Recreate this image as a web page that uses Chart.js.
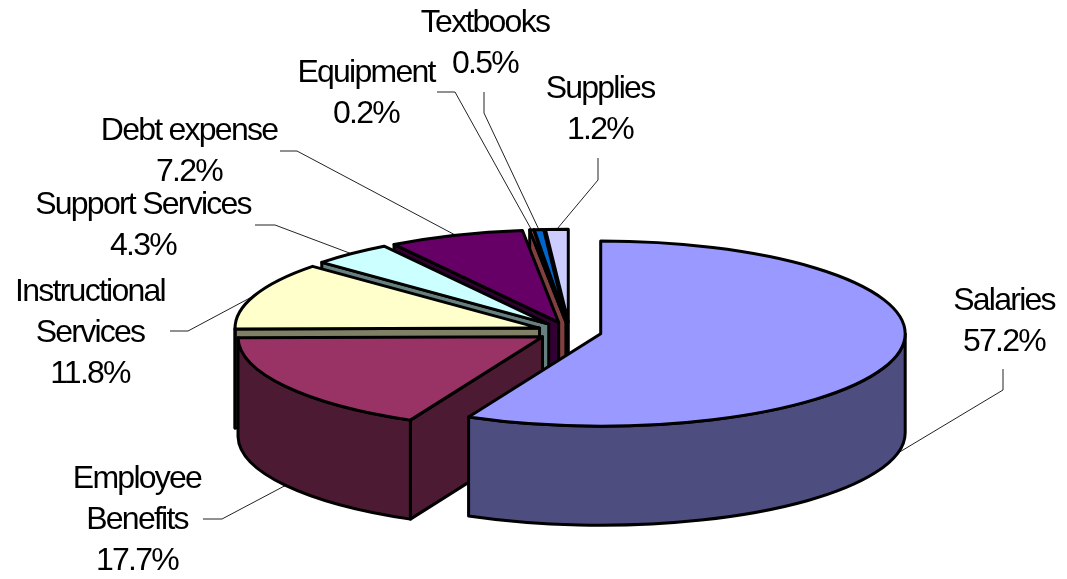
<!DOCTYPE html>
<html>
<head>
<meta charset="utf-8">
<script src="https://cdn.jsdelivr.net/npm/chart.js@4"></script>
<style>
    body { margin: 0; background: #fff; }
    #wrap { width: 1067px; height: 579px; }
</style>
</head>
<body>
<div id="wrap"><canvas id="pieChart" width="1067" height="579"></canvas></div>
<script>
const categories = ["Salaries", "Employee Benefits", "Instructional Services", "Support Services", "Debt expense", "Equipment", "Textbooks", "Supplies"];
const shares = [57.2, 17.7, 11.8, 4.3, 7.2, 0.2, 0.5, 1.2];

const topColors = ["#9999FF", "#993366", "#FFFFCC", "#CCFFFF", "#660066", "#FF8080", "#0066CC", "#CCCCFF"];
const wallColors = ["#4D4D80", "#4D1A33", "#808066", "#668080", "#330033", "#804040", "#003366", "#666680"];

// label centre x, first line centre y, leader start and elbow
const labelSpots = [
    { x: 1004, y: 301, wrap: false, from: [1003, 369], elbow: [1003, 390], wall: true },
    { x: 137, y: 479, wrap: true, from: [203, 519], elbow: [222, 519], wall: true },
    { x: 90, y: 292, wrap: true, from: [170, 331], elbow: [188, 331], wall: false },
    { x: 143, y: 205, wrap: false, from: [255, 225], elbow: [275, 225], wall: false },
    { x: 189, y: 131, wrap: false, from: [280, 151], elbow: [297, 151], wall: false },
    { x: 366, y: 73, wrap: false, from: [437, 92], elbow: [455, 92], wall: false },
    { x: 485, y: 23, wrap: false, from: [484, 92], elbow: [484, 113], wall: false },
    { x: 600, y: 89, wrap: false, from: [598, 158], elbow: [598, 180], wall: false },
];

const SQUASH = 0.304;
const DEPTH = 99;
const EXPLODE = 32;
const LINE_GAP = 41;

const pie3d = {
    id: "pie3d",
    // the library works out the slices, this only draws them tilted
    beforeDatasetsDraw(chart) {
        const ctx = chart.ctx;
        const arcs = chart.getDatasetMeta(0).data;

        const geo = arcs.map((arc) => {
            const p = arc.getProps(["x", "y", "startAngle", "endAngle", "outerRadius"], true);
            const mid = (p.startAngle + p.endAngle) / 2;
            return {
                cx: p.x + Math.cos(mid) * EXPLODE,
                cy: p.y + Math.sin(mid) * EXPLODE * SQUASH,
                rx: p.outerRadius,
                ry: p.outerRadius * SQUASH,
                a0: p.startAngle,
                a1: p.endAngle,
                mid: mid,
            };
        });

        drawLeaders(ctx, geo);

        ctx.lineWidth = 3;
        ctx.lineJoin = "round";
        ctx.strokeStyle = "#000";

        for (let i = geo.length - 1; i >= 0; i--) {
            const g = geo[i];

            // cut face, only the ones turned towards the viewer
            if (g.a0 > Math.PI / 2 && g.a0 < Math.PI * 1.5) {
                const ex = g.cx + Math.cos(g.a0) * g.rx;
                const ey = g.cy + Math.sin(g.a0) * g.ry;
                ctx.beginPath();
                ctx.moveTo(g.cx, g.cy);
                ctx.lineTo(ex, ey);
                ctx.lineTo(ex, ey + DEPTH);
                ctx.lineTo(g.cx, g.cy + DEPTH);
                ctx.closePath();
                ctx.fillStyle = wallColors[i];
                ctx.fill();
                ctx.stroke();
            }

            // outer wall, front half of the ellipse
            const lo = Math.max(g.a0, 0);
            const hi = Math.min(g.a1, Math.PI);
            if (hi > lo) {
                ctx.beginPath();
                ctx.ellipse(g.cx, g.cy, g.rx, g.ry, 0, lo, hi);
                ctx.lineTo(g.cx + Math.cos(hi) * g.rx, g.cy + Math.sin(hi) * g.ry + DEPTH);
                ctx.ellipse(g.cx, g.cy + DEPTH, g.rx, g.ry, 0, hi, lo, true);
                ctx.closePath();
                ctx.fillStyle = wallColors[i];
                ctx.fill();
                ctx.stroke();
            }

            // top
            ctx.beginPath();
            ctx.moveTo(g.cx, g.cy);
            ctx.ellipse(g.cx, g.cy, g.rx, g.ry, 0, g.a0, g.a1);
            ctx.closePath();
            ctx.fillStyle = arcs[i].options.backgroundColor;
            ctx.fill();
            ctx.stroke();
        }

        drawLabels(ctx);
        return false;
    },
};

function drawLeaders(ctx, geo) {
    ctx.lineWidth = 1;
    ctx.strokeStyle = "#222";
    labelSpots.forEach((s, i) => {
        const g = geo[i];
        ctx.beginPath();
        ctx.moveTo(s.from[0], s.from[1]);
        ctx.lineTo(s.elbow[0], s.elbow[1]);
        ctx.lineTo(g.cx + Math.cos(g.mid) * g.rx, g.cy + Math.sin(g.mid) * g.ry + (s.wall ? DEPTH : 0));
        ctx.stroke();
    });
}

function drawLabels(ctx) {
    ctx.fillStyle = "#000";
    ctx.font = '32px "Liberation Sans"';
    ctx.letterSpacing = "-1.75px";
    ctx.textAlign = "center";
    ctx.textBaseline = "middle";
    labelSpots.forEach((s, i) => {
        const lines = s.wrap ? categories[i].split(" ") : [categories[i]];
        lines.push(shares[i].toFixed(1) + "%");
        lines.forEach((t, n) => ctx.fillText(t, s.x, s.y + n * LINE_GAP));
    });
    ctx.letterSpacing = "0px";
}

new Chart(document.getElementById("pieChart").getContext("2d"), {
    type: "pie",
    data: {
        labels: categories,
        datasets: [
            {
                data: shares,
                backgroundColor: topColors,
                radius: 304.5,
            },
        ],
    },
    options: {
        responsive: false,
        animation: false,
        layout: { padding: { left: 72, top: 84 } },
        plugins: {
            legend: { display: false },
            tooltip: { enabled: false },
        },
    },
    plugins: [pie3d],
});
</script>
</body>
</html>
